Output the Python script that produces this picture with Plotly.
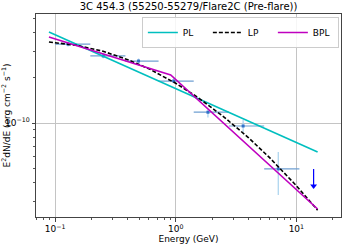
import plotly.graph_objects as go

# ---- data ----
energy = [0.128, 0.251, 0.492, 0.962, 1.85, 3.62, 7.08]
e_lo = [0.100, 0.196, 0.383, 0.721, 1.41, 2.76, 5.41]
e_hi = [0.196, 0.383, 0.721, 1.41, 2.76, 5.41, 10.6]
flux = [3.36e-10, 2.80e-10, 2.59e-10, 1.905e-10, 1.18e-10, 9.55e-11, 4.94e-11]
flux_err_hi = [1.2e-11, 1.0e-11, 1.0e-11, 0.9e-11, 0.5e-11, 0.92e-11, 1.47e-11]
flux_err_lo = [1.2e-11, 1.0e-11, 1.0e-11, 0.6e-11, 0.9e-11, 0.84e-11, 1.63e-11]

ul_energy = [13.9]
ul_flux = [4.94e-11]
ul_tip = [3.80e-11]

pl_energy = [0.089, 15.0]
pl_flux = [4.04e-10, 6.41e-11]

bpl_energy = [0.089, 0.909, 15.0]
bpl_flux = [3.74e-10, 2.09e-10, 2.67e-11]

lp_energy = [0.089, 0.15, 0.25, 0.4, 0.6, 1.0, 1.5, 2.5, 4.0, 6.0, 10.0, 15.0]
lp_flux = [3.47e-10, 3.30e-10, 3.01e-10, 2.645e-10, 2.30e-10, 1.84e-10,
           1.495e-10, 1.10e-10, 8.0e-11, 5.87e-11, 3.82e-11, 2.62e-11]

title = "3C 454.3 (55250-55279/Flare2C (Pre-flare))"
font = "DejaVu Sans"

fig = go.Figure()

fig.add_trace(go.Scatter(
    x=energy, y=flux, mode="markers", showlegend=False,
    marker=dict(symbol="square", size=3, color="#3070c8"),
    error_x=dict(type="data", symmetric=False,
                 array=[h - e for h, e in zip(e_hi, energy)],
                 arrayminus=[e - l for e, l in zip(energy, e_lo)],
                 color="#6f9fd2", thickness=1.2, width=0),
    error_y=dict(type="data", symmetric=False,
                 array=flux_err_hi, arrayminus=flux_err_lo,
                 color="#a8d2ee", thickness=1.2, width=0),
))

# upper limit arrow
fig.add_trace(go.Scatter(
    x=ul_energy * 2, y=ul_flux + ul_tip, mode="lines", showlegend=False,
    line=dict(color="#0000ff", width=1.2),
))
fig.add_trace(go.Scatter(
    x=ul_energy, y=ul_tip, mode="markers", showlegend=False,
    marker=dict(symbol="triangle-down", size=6, color="#0000ff"),
))

fig.add_trace(go.Scatter(x=pl_energy, y=pl_flux, mode="lines", name="PL",
                         line=dict(color="#00bfbf", width=1.6)))
fig.add_trace(go.Scatter(x=lp_energy, y=lp_flux, mode="lines", name="LP",
                         line=dict(color="black", width=1.6, dash="4px,2px")))
fig.add_trace(go.Scatter(x=bpl_energy, y=bpl_flux, mode="lines", name="BPL",
                         line=dict(color="#bf00bf", width=1.6)))

axis_common = dict(
    type="log", showline=True, linecolor="#444444", linewidth=1, mirror=True,
    ticks="outside", ticklen=3.5, tickwidth=1, tickcolor="#444444",
    showgrid=True, gridcolor="#c4c4c4", gridwidth=1, zeroline=False,
    automargin=False,
    tickfont=dict(family=font, size=9, color="black"),
    minor=dict(ticks="outside", ticklen=2, tickcolor="#555555", dtick="D1", showgrid=False),
)

fig.update_layout(
    template="none",
    width=346, height=245,
    margin=dict(l=36, r=5, t=14, b=28),
    paper_bgcolor="white", plot_bgcolor="white",
    title=dict(text=title, x=0.545, xanchor="center", y=0.972, yanchor="middle",
               font=dict(family=font, size=10, color="black")),
    xaxis=dict(axis_common, range=[-1.158, 1.37],
               tickvals=[0.1, 1, 10],
               ticktext=["10<sup>−1</sup>", "10<sup>0</sup>", "10<sup>1</sup>"],
               title=dict(text="Energy (GeV)", font=dict(family=font, size=9, color="black"),
                          standoff=0)),
    yaxis=dict(axis_common, range=[-10.627, -9.273],
               tickvals=[1e-10], ticktext=["10<sup>−10</sup>"],
               title=dict(text="E<sup>2</sup>dN/dE (erg cm<sup>−2</sup> s<sup>−1</sup>)",
                          font=dict(family=font, size=9, color="black"), standoff=4)),
    legend=dict(orientation="h", x=0.993, xanchor="right", y=0.985, yanchor="top",
                bgcolor="rgba(255,255,255,0.85)", bordercolor="#cccccc", borderwidth=1,
                font=dict(family=font, size=9, color="black"),
                entrywidth=20, itemwidth=30),
)

fig.write_html("out.html", config={"displayModeBar": False},
               post_script="document.body.style.margin='0px';")
